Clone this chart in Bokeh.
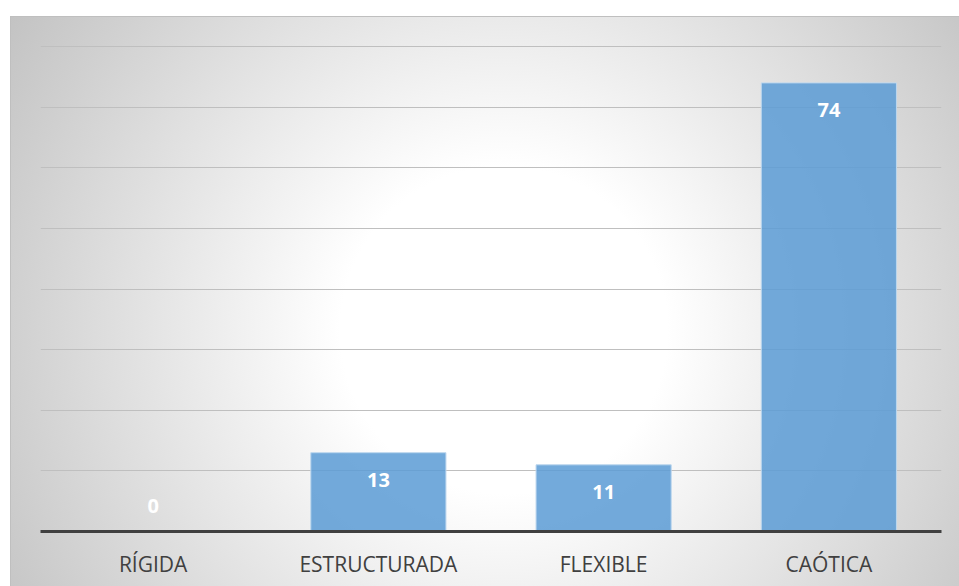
from bokeh.plotting import figure
from bokeh.models import ColumnDataSource, FactorRange, Range1d, FixedTicker
from bokeh.core.properties import value
from bokeh.embed import file_html
from bokeh.resources import INLINE

categories = ["RÍGIDA", "ESTRUCTURADA", "FLEXIBLE", "CAÓTICA"]
counts = [0, 13, 11, 74]
y_ticks = [10, 20, 30, 40, 50, 60, 70, 80]

labels = [str(v) for v in counts]
label_offsets = [27 if v > 0 else -26 for v in counts]

source = ColumnDataSource(dict(cat=categories, val=counts, label=labels, off=label_offsets))

p = figure(
    x_range=FactorRange(*categories),
    y_range=Range1d(0, 80.17),
    width=959, height=586,
    output_backend="svg", toolbar_location=None,
    min_border_left=40, min_border_right=18, min_border_top=45, min_border_bottom=55,
)
p.outline_line_color = None
p.background_fill_alpha = 0
p.border_fill_alpha = 0
p.styles = {
    "background": (
        "radial-gradient(circle farthest-corner at 52% 55%, #FFFFFF 0%, #FFFFFF 28%, #C3C3C3 100%) "
        "11px 17px / calc(100% - 11px) calc(100% - 17px) no-repeat, "
        "linear-gradient(#BFBFBF, #BFBFBF) 10px 16px / calc(100% - 10px) calc(100% - 16px) no-repeat"
    )
}

p.vbar(x="cat", top="val", width=0.6, source=source,
       fill_color="#5B9BD5", fill_alpha=0.85,
       line_color="#BDD7EE", line_width=1)

p.text(x="cat", y="val", text="label", source=source,
       y_offset="off", text_align="center", text_baseline="middle",
       text_color="white", text_font=value("Open Sans"),
       text_font_style="bold", text_font_size="20px")

p.yaxis.visible = False
p.yaxis.ticker = FixedTicker(ticks=y_ticks)
p.ygrid.grid_line_color = "#BFBFBF"
p.ygrid.grid_line_width = 1
p.xgrid.grid_line_color = None

xa = p.xaxis[0]
xa.axis_line_color = "#404040"
xa.axis_line_width = 3
xa.major_tick_line_color = None
xa.minor_tick_line_color = None
xa.major_label_text_font = "Open Sans"
xa.major_label_text_font_size = "21px"
xa.major_label_text_color = "#404040"
xa.major_label_standoff = 12

open("out.html", "w").write(file_html(p, INLINE))
